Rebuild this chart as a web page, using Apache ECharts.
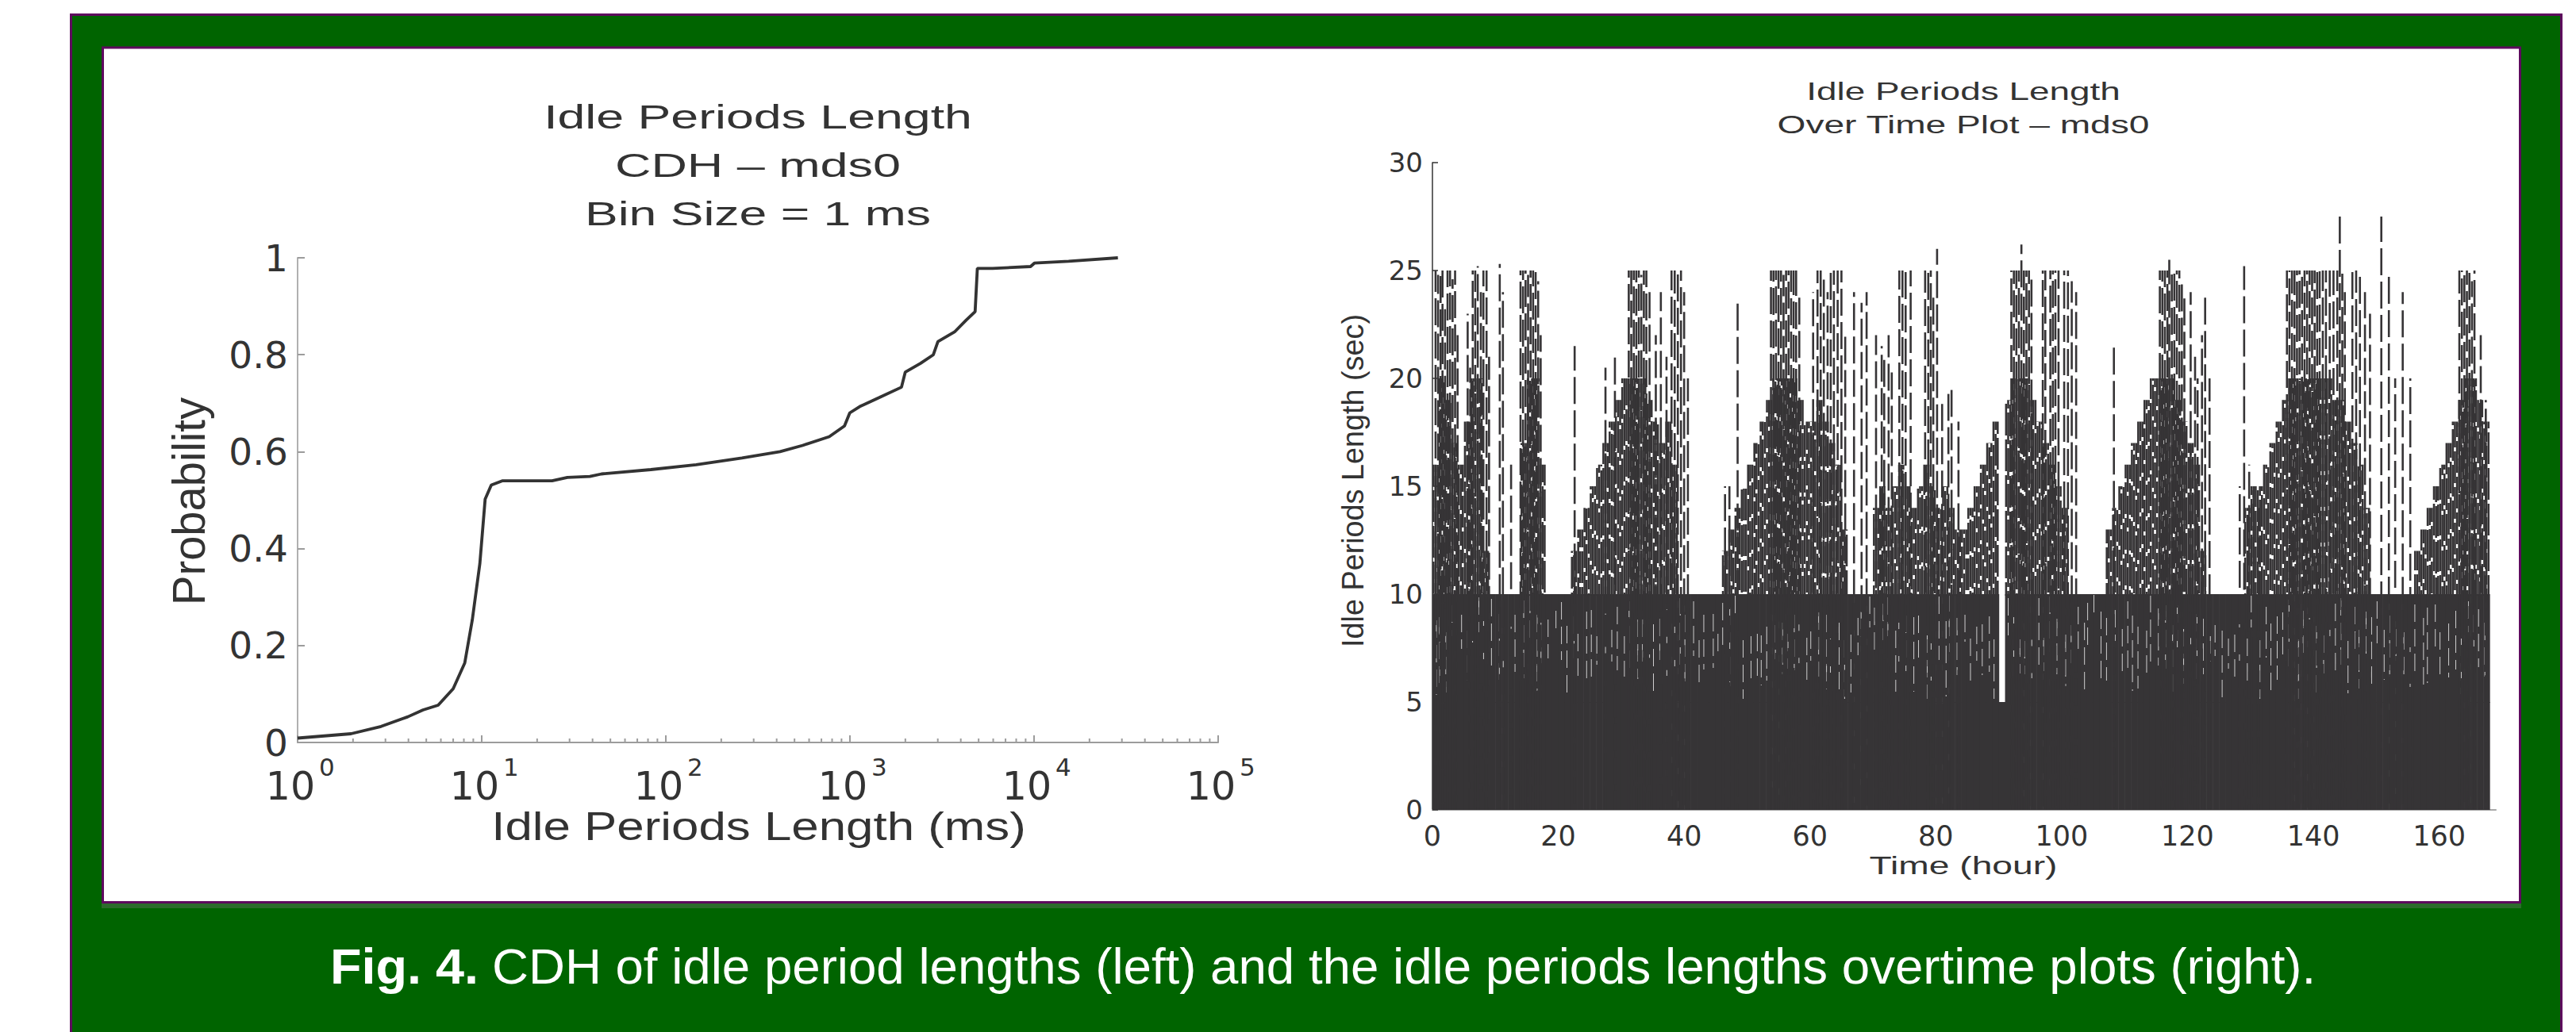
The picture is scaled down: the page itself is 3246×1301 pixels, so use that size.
<!DOCTYPE html>
<html>
<head>
<meta charset="utf-8">
<script src="https://cdn.jsdelivr.net/npm/echarts@6.0.0/dist/echarts.min.js"></script>
<style>
html,body{margin:0;padding:0;background:#ffffff;}
#c{width:3246px;height:1301px;}
</style>
</head>
<body>
<div id="c"></div>
<script>
// ---------------- DATA ----------------
// Left: CDH of idle period lengths (ms) vs cumulative probability
const cdfLengthMs = [1, 1.95, 2.84, 3.97, 4.8, 5.8, 7.0, 8.09, 8.89, 9.77, 10.44, 11.27, 13.0, 24.1, 29.2,
  38.7, 44.7, 82.9, 146, 259, 417, 554, 772, 934, 998, 1130, 1432, 1905, 1997, 2415,
  2838, 3005, 3700, 4266, 4785, 4921, 5955, 9577, 10040, 15400, 28540];
const cdfProbability = [0.009, 0.018, 0.033, 0.053, 0.067, 0.077, 0.111, 0.164, 0.253, 0.369, 0.502, 0.531, 0.540, 0.540, 0.547,
  0.549, 0.554, 0.563, 0.573, 0.587, 0.600, 0.613, 0.631, 0.653, 0.680, 0.693, 0.711, 0.733, 0.764, 0.782,
  0.800, 0.827, 0.847, 0.871, 0.889, 0.978, 0.978, 0.982, 0.989, 0.993, 1.0];

// Right: top of the dense mass of idle periods (sec) in each hour bin [h, h+1), h = 0..167
const hourlyMassTop = [
  16,20,19,17,16,18,20,20,12,10,
  10,10,10,10,17,20,20,16,10,10,
  10,10,12,13,14,15,16,17,18,19,
  20,20,20,20,19,18,17,18,16,10,
  10,10,10,10,10,10,12,13,14,15,
  16,17,18,19,20,20,20,20,19,18,
  18,19,18,17,16,13,10,10,10,10,
  14,15,14,15,16,15,14,15,16,15,
  14,15,14,13,13,14,15,16,17,18,
  5,19,20,20,20,19,18,17,16,15,
  14,10,10,10,10,10,10,13,14,15,
  16,17,18,19,20,20,20,20,19,18,
  17,16,12,10,10,10,10,10,10,14,
  15,15,16,17,18,19,20,20,20,20,
  20,20,20,19,19,18,17,16,14,10,
  10,10,10,10,10,10,12,13,14,15,
  16,17,18,19,20,20,19,18];

// Right: individual long idle periods (time in hours, length in sec)
const spikeHour = [
  0.5,0.9,1.3,1.6,2.0,2.4,2.8,3.2,3.6,4.0,
  5.6,6.0,6.4,6.8,7.2,7.7,8.1,8.6,9.0,
  10.7,11.2,12.5,
  14.0,14.4,14.8,15.2,15.6,16.0,16.4,16.8,17.2,
  22.6, 27.5,29.0,
  31.2,31.6,32.0,32.4,32.8,33.2,33.6,34.0,34.5,
  35.5,36.3,37.2,38.0,38.5,39.0,39.5,40.0,40.6,
  46.5,47.2,48.5,
  53.8,54.2,54.6,55.0,55.4,55.8,56.2,56.6,57.0,57.4,57.8,58.3,
  60.5,61.2,61.7,62.2,62.8,63.3,63.8,64.4,65.0,65.6,
  67.0,68.2,69.0,
  70.5,71.4,71.8,72.5,73.0,
  74.2,74.7,75.2,76.0,
  78.3,78.8,79.2,79.6,80.2,
  81.0,82.0,82.5,83.6,
  92.0,92.4,92.8,93.2,93.6,94.0,94.4,94.8,95.2,
  97.0,97.4,98.2,98.6,99.0,99.5,100.4,101.0,101.6,102.3,
  108.3,
  115.6,116.0,116.4,116.8,117.1,117.5,117.9,118.3,118.7,119.1,119.5,
  120.5,121.2,121.6,122.3,122.8,123.5,
  128.3,129.0,129.8,130.5,131.3,
  135.8,136.2,136.6,137.0,137.4,137.8,138.2,138.6,139.0,139.4,139.8,140.2,140.6,141.0,141.5,142.0,142.6,143.2,143.8,144.2,144.6,145.0,
  146.2,146.8,147.4,148.2,149.0,150.8,152.0,
  153.0,154.2,155.4,
  163.2,163.6,164.0,164.4,164.8,165.2,165.6,
  166.6,167.4];
const spikeLength = [
  25,24.8,25,25,23.5,25,25,24.6,25,22,
  23,20.5,25,25,25.2,24,25,25,21,
  25.3,24,16,
  25,25,25,24.8,25,25,25,24.5,22,
  21.5, 20.5,21,
  25,25,25,25,25,24.8,25,25,24,
  22,24,21,25,25,25,25,24,20,
  15,15,23.5,
  25,25,25,25,25,24.8,25,25,25,25,25,24,
  24,25,25,24.8,24,25,25,25,25,22,
  24,23.5,24,
  22,21.5,21,22,20.5,
  25,25,25,25,
  25,25,25,24,26,
  19,19.5,19.5,18,
  25,25,25,25,26.2,25,25,25,24.8,
  25,25,25,25,25,25,25,25,24.5,24,
  21.5,
  25,25,25,25,25.5,25,25,25,25,24.5,24,
  24,21,20,22,24,20,
  15,25.2,16,15,14,
  25,25,25,25,25,25,25,25,25,25,25,25,25,25,25,25,25,25,25,27.5,25,24,
  25,25,25,24,23,27.5,25,
  20,24,20,
  25,25,25,25,25,24.5,25,
  22,19];

// Tick settings
const cdfProbTicks = {min: 0, max: 1, interval: 0.2};
const cdfLengthRange = {min: 1, max: 100000};
const timeTicks = {min: 0, max: 169, interval: 20};
const idleSecTicks = {min: 0, max: 30, interval: 5};

// ---------------- RENDER ----------------
const DARK = '#363436';
const TICKFONT = 'DejaVu Sans';
const TEXTFONT = 'Liberation Sans';
const mctx = document.createElement('canvas').getContext('2d');
function measure(text, size, family, weight) {
  mctx.font = (weight || 'normal') + ' ' + size + 'px "' + family + '"';
  return mctx.measureText(text).width;
}
function txt(text, x, y, size, targetW, opt) {
  opt = opt || {};
  const fam = opt.family || TEXTFONT;
  const sx = targetW ? targetW / measure(text, size, fam, opt.weight) : 1;
  const al = opt.align || 'center';
  return {
    type: 'text', x: x, y: y, rotation: opt.rotation || 0, scaleX: sx, scaleY: opt.scaleY || 1, z: 20,
    style: {
      text: text, fontSize: size, fontFamily: fam, fontWeight: opt.weight || 'normal',
      fill: opt.color || '#333333', align: al, verticalAlign: 'middle', textAlign: al, textVerticalAlign: 'middle'
    }
  };
}
function hash(a, b) {
  let v = (a * 73856093) ^ (b * 19349663);
  v = (v ^ (v >>> 13)) * 1274126177;
  return Math.abs(v ^ (v >>> 16));
}

// minor ticks of the log axis (2..9 x 10^k)
const logMinorTicks = [];
for (let k = 0; k < 5; k++) for (let m = 2; m <= 9; m++) logMinorTicks.push(m * Math.pow(10, k));

const chart = echarts.init(document.getElementById('c'), null, {renderer: 'svg', width: 3246, height: 1301});

const logAxisBase = {
  type: 'log', logBase: 10, gridIndex: 0, position: 'bottom',
  min: cdfLengthRange.min, max: cdfLengthRange.max,
  splitLine: {show: false}, minorTick: {show: false}
};

const option = {
  animation: false,
  backgroundColor: '#ffffff',
  graphic: {elements: [
    {type: 'rect', z: -5, shape: {x: 89.5, y: 18.5, width: 3138, height: 1400}, style: {fill: '#006400', stroke: '#5e0a5e', lineWidth: 3}},
    {type: 'rect', z: -4, shape: {x: 128, y: 1138, width: 3049, height: 7}, style: {fill: '#2c6c2c'}},
    {type: 'rect', z: -3, shape: {x: 129.5, y: 60, width: 3046, height: 1077.5}, style: {fill: '#ffffff', stroke: '#5e0a5e', lineWidth: 3}},
    // left titles
    txt('Idle Periods Length', 955, 147, 43, 540),
    txt('CDH \u2013 mds0', 955, 208, 43, 360),
    txt('Bin Size = 1 ms', 955, 269, 43, 436),
    txt('Idle Periods Length (ms)', 956, 1042, 50, 674),
    txt('Probability', 238, 632, 50, 262, {rotation: Math.PI / 2, scaleY: 1.15}),
    // right titles
    txt('Idle Periods Length', 2474, 115, 31, 396),
    txt('Over Time Plot \u2013 mds0', 2474, 157, 31, 470),
    txt('Time (hour)', 2474, 1091, 32, 237),
    txt('Idle Periods Length (sec)', 1705, 606, 32, 420, {rotation: Math.PI / 2, scaleY: 1.2}),
    // caption
    txt('Fig. 4.', 416, 1218, 63, 187, {weight: 'bold', color: '#ffffff', align: 'left'}),
    txt('CDH of idle period lengths (left) and the idle periods lengths overtime plots (right).', 620, 1218, 63, 2299,
      {color: '#ffffff', align: 'left'})
  ]},
  grid: [
    {left: 375, top: 325, width: 1160, height: 611},
    {left: 1805, top: 205, width: 1340, height: 816}
  ],
  xAxis: [
    Object.assign({}, logAxisBase, {
      axisLine: {onZero: false, lineStyle: {color: '#9c9c9c', width: 2}},
      axisTick: {inside: true, length: 9, lineStyle: {color: '#9c9c9c', width: 2}},
      axisLabel: {
        margin: 31, fontSize: 49, lineHeight: 49, fontFamily: TICKFONT, color: '#333333',
        padding: [0, 18, 0, 0],
        formatter: function () { return '10'; }
      }
    }),
    {
      type: 'value', gridIndex: 1, min: timeTicks.min, max: timeTicks.max, interval: timeTicks.interval,
      axisLine: {onZero: false, lineStyle: {color: '#a8a8a8', width: 2}},
      axisTick: {show: false}, splitLine: {show: false},
      axisLabel: {fontSize: 35, fontFamily: TICKFONT, color: '#333333', margin: 15, showMaxLabel: false}
    },
    Object.assign({}, logAxisBase, {
      axisLine: {show: false}, axisTick: {show: false},
      axisLabel: {
        margin: 15, fontSize: 31, lineHeight: 31, fontFamily: TICKFONT, color: '#333333',
        align: 'left', padding: [0, 0, 0, 27],
        formatter: function (v) { return String(Math.round(Math.log10(v))); }
      }
    })
  ],
  yAxis: [
    {
      type: 'value', gridIndex: 0, min: cdfProbTicks.min, max: cdfProbTicks.max, interval: cdfProbTicks.interval,
      axisLine: {show: true, onZero: false, lineStyle: {color: '#b0b0b0', width: 2}},
      axisTick: {show: true, inside: true, length: 9, lineStyle: {color: '#9c9c9c', width: 2}},
      splitLine: {show: false},
      axisLabel: {fontSize: 47, lineHeight: 47, fontFamily: TICKFONT, color: '#333333', margin: 12}
    },
    {
      type: 'value', gridIndex: 1, min: idleSecTicks.min, max: idleSecTicks.max, interval: idleSecTicks.interval,
      axisLine: {show: true, onZero: false, lineStyle: {color: '#333333', width: 1.5}},
      axisTick: {show: true, inside: true, length: 7, lineStyle: {color: '#333333', width: 1.5}},
      splitLine: {show: false},
      axisLabel: {fontSize: 34, fontFamily: TICKFONT, color: '#333333', margin: 12}
    }
  ],
  series: [
    {
      name: 'CDH', type: 'line', xAxisIndex: 0, yAxisIndex: 0, z: 5,
      symbol: 'none', showSymbol: false, smooth: false,
      lineStyle: {color: '#333333', width: 3.8},
      data: cdfLengthMs.map(function (x, i) { return [x, cdfProbability[i]]; })
    },
    {
      name: 'minorTicks', type: 'custom', xAxisIndex: 0, yAxisIndex: 0, silent: true, z: 4,
      data: logMinorTicks.map(function (v) { return [v, 0]; }),
      renderItem: function (params, api) {
        const p = api.coord([api.value(0), 0]);
        return {type: 'line', shape: {x1: p[0], y1: p[1], x2: p[0], y2: p[1] - 5}, style: {stroke: '#9c9c9c', lineWidth: 2}};
      }
    },
    {
      name: 'mass', type: 'custom', xAxisIndex: 1, yAxisIndex: 1, silent: true, z: 3,
      data: hourlyMassTop.map(function (t, h) { return [h, t]; }),
      renderItem: function (params, api) {
        const h = api.value(0), top = api.value(1);
        const p0 = api.coord([h, 0]);
        const p1 = api.coord([h + 1, 0]);
        const y5 = api.coord([h, Math.min(top, 5)])[1];
        const y10 = api.coord([h, Math.min(top, 10)])[1];
        const yT = api.coord([h, top])[1];
        const w = p1[0] - p0[0];
        const ch = [{type: 'rect', shape: {x: p0[0], y: y5, width: w + 0.6, height: p0[1] - y5}, style: {fill: DARK}}];
        if (top > 5) {
          // nearly solid band between 5 and 10 with a few white hairlines
          ch.push({type: 'rect', shape: {x: p0[0], y: y10, width: w + 0.6, height: y5 - y10 + 1}, style: {fill: DARK}});
          const hx = p0[0] + 1 + (hash(h, 3) % Math.max(1, Math.floor(w - 2)));
          const segTop = y10 + (hash(h, 4) % 60);
          const segBot = Math.min(y5 - 4, segTop + 30 + (hash(h, 5) % 70));
          if (segBot > segTop) ch.push({type: 'line', shape: {x1: hx, y1: segTop, x2: hx, y2: segBot},
            style: {stroke: '#ffffff', lineWidth: 0.9, lineDash: [22, 9], opacity: 0.85}});
        }
        if (top > 10) {
          for (let i = 0; i < 3; i++) {
            const x = p0[0] + (i + 0.5) * w / 3;
            ch.push({type: 'line', shape: {x1: x, y1: y10 + 2, x2: x, y2: yT},
              style: {stroke: DARK, lineWidth: 2.6, lineDash: [40, 5], lineDashOffset: hash(h + 500, i) % 45}});
          }
        }
        return {type: 'group', children: ch};
      }
    },
    {
      name: 'spikes', type: 'custom', xAxisIndex: 1, yAxisIndex: 1, silent: true, z: 4,
      data: spikeHour.map(function (t, i) { return [t, spikeLength[i]]; }),
      renderItem: function (params, api) {
        const p0 = api.coord([api.value(0), 0]);
        const p1 = api.coord([api.value(0), api.value(1)]);
        return {type: 'line', shape: {x1: p1[0], y1: p1[1], x2: p0[0], y2: p0[1]},
          style: {stroke: DARK, lineWidth: 2.6, lineDash: [34, 8], lineDashOffset: hash(params.dataIndex, 7) % 42}};
      }
    }
  ]
};
chart.setOption(option);
</script>
</body>
</html>
